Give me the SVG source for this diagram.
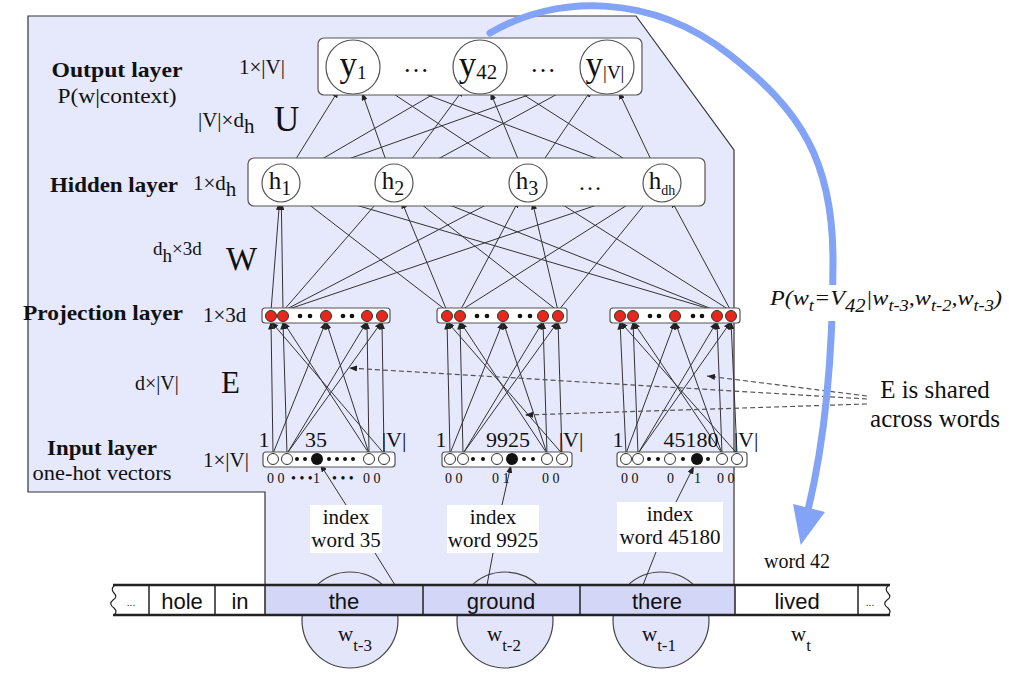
<svg xmlns="http://www.w3.org/2000/svg" width="1009" height="680" viewBox="0 0 1009 680">
<style>
.t{font-family:"Liberation Serif","Times New Roman",serif;fill:#111}
.s{font-family:"Liberation Sans",Arial,sans-serif;fill:#111}
.b{font-weight:bold}
.c{stroke:#333;stroke-width:1;fill:none;marker-end:url(#ah)}
.d{stroke:#555;stroke-width:1.2;stroke-dasharray:5 3;fill:none;marker-end:url(#ah)}
.box{fill:#fff;stroke:#555;stroke-width:1.2}
.nd{fill:#fff;stroke:#555;stroke-width:1.2}
.red{fill:#e8271c;stroke:#333;stroke-width:1}
.oc{fill:#fff;stroke:#333;stroke-width:1}
.sd{fill:#111}
.cell{stroke:#222;stroke-width:1.5}
</style>
<defs>
<marker id="ah" viewBox="0 0 8 6" refX="8" refY="3" markerWidth="8" markerHeight="6" orient="auto" markerUnits="userSpaceOnUse"><path d="M0,0L8,3L0,6z" fill="#222"/></marker>
</defs>
<rect width="1009" height="680" fill="#fff"/>
<polygon id="panel" points="28,16 636,16 734,150 734,585 265,585 265,492 28,492" fill="#e6e8fc" stroke="#333" stroke-width="1.2"/>

<!-- word circles -->
<g id="wcircles" fill="#e3e5fb" stroke="#444" stroke-width="1.2">
<circle cx="350" cy="620" r="48"/>
<circle cx="505" cy="620" r="48"/>
<circle cx="661" cy="620" r="48"/>
</g>

<!-- left labels -->
<g id="labels">
<text class="t b" x="117" y="77" font-size="21" text-anchor="middle" textLength="131" lengthAdjust="spacingAndGlyphs">Output layer</text>
<text class="t" x="117" y="103" font-size="21" text-anchor="middle" textLength="119" lengthAdjust="spacingAndGlyphs">P(w|context)</text>
<text class="t" x="239" y="74" font-size="21">1×|V|</text>
<text class="t" x="198" y="127" font-size="21">|V|×d<tspan dy="6">h</tspan></text>
<text class="t" x="274" y="131" font-size="35">U</text>
<text class="t b" x="114" y="192" font-size="21" text-anchor="middle" textLength="128" lengthAdjust="spacingAndGlyphs">Hidden layer</text>
<text class="t" x="193" y="190" font-size="21">1×d<tspan dy="6">h</tspan></text>
<text class="t" x="153" y="255" font-size="19">d<tspan dy="7">h</tspan><tspan dy="-7">×3d</tspan></text>
<text class="t" x="226" y="270" font-size="33">W</text>
<text class="t b" x="103" y="320" font-size="21" text-anchor="middle" textLength="160" lengthAdjust="spacingAndGlyphs">Projection layer</text>
<text class="t" x="203" y="322" font-size="21">1×3d</text>
<text class="t" x="135" y="390" font-size="20">d×|V|</text>
<text class="t" x="221" y="393" font-size="31">E</text>
<text class="t b" x="102" y="455" font-size="21" text-anchor="middle" textLength="110" lengthAdjust="spacingAndGlyphs">Input layer</text>
<text class="t" x="102" y="480" font-size="20" text-anchor="middle" textLength="139" lengthAdjust="spacingAndGlyphs">one-hot vectors</text>
<text class="t" x="203" y="467" font-size="21">1×|V|</text>
</g>

<!-- connectors -->
<g id="connectors">
<!-- hidden to output -->
<line class="c" x1="291" y1="166.8" x2="338.8" y2="89.9"/>
<line class="c" x1="297.4" y1="173.4" x2="456.7" y2="80.6"/>
<line class="c" x1="298.9" y1="176.6" x2="581.6" y2="76.1"/>
<line class="c" x1="387.7" y1="165.1" x2="362" y2="92.5"/>
<line class="c" x1="405.3" y1="167.7" x2="463.9" y2="88.7"/>
<line class="c" x1="410.7" y1="173.9" x2="583.3" y2="79.9"/>
<line class="c" x1="512.2" y1="172.5" x2="375.5" y2="81.9"/>
<line class="c" x1="520.7" y1="165.4" x2="490.3" y2="92"/>
<line class="c" x1="538.7" y1="167.3" x2="591.8" y2="89.3"/>
<line class="c" x1="644.2" y1="176.3" x2="378.3" y2="76.5"/>
<line class="c" x1="646" y1="172.8" x2="502.8" y2="81.5"/>
<line class="c" x1="653.9" y1="165.8" x2="618.6" y2="91.4"/>
<!-- projection to hidden -->
<line class="c" x1="271" y1="311" x2="279.5" y2="201.9"/>
<line class="c" x1="283" y1="311" x2="281.3" y2="202"/>
<line class="c" x1="283" y1="311" x2="381.6" y2="197.4"/>
<line class="c" x1="283" y1="311" x2="511.2" y2="191.8"/>
<line class="c" x1="283" y1="311" x2="644" y2="189.1"/>
<line class="c" x1="447" y1="311" x2="296" y2="194.6"/>
<line class="c" x1="447" y1="311" x2="401.3" y2="200.6"/>
<line class="c" x1="460" y1="311" x2="519.1" y2="199.8"/>
<line class="c" x1="460" y1="311" x2="645.9" y2="193.2"/>
<line class="c" x1="558" y1="311" x2="409" y2="194.7"/>
<line class="c" x1="558" y1="311" x2="532.3" y2="201.5"/>
<line class="c" x1="558" y1="311" x2="650" y2="197.7"/>
<line class="c" x1="717" y1="311" x2="299.2" y2="188.4"/>
<line class="c" x1="717" y1="311" x2="411.7" y2="190"/>
<line class="c" x1="731" y1="311" x2="544.1" y2="193.1"/>
<line class="c" x1="731" y1="311" x2="671" y2="199.7"/>
<!-- input to projection, group 1 -->
<line class="c" x1="273" y1="453.5" x2="271" y2="321.5"/>
<line class="c" x1="273" y1="453.5" x2="326" y2="321.5"/>
<line class="c" x1="287" y1="453.5" x2="283" y2="321.5"/>
<line class="c" x1="287" y1="453.5" x2="367" y2="321.5"/>
<line class="c" x1="287" y1="453.5" x2="382" y2="321.5"/>
<line class="c" x1="369" y1="453.5" x2="283" y2="321.5"/>
<line class="c" x1="369" y1="453.5" x2="326" y2="321.5"/>
<line class="c" x1="369" y1="453.5" x2="367" y2="321.5"/>
<line class="c" x1="384" y1="453.5" x2="271" y2="321.5"/>
<line class="c" x1="384" y1="453.5" x2="382" y2="321.5"/>
<!-- group 2 -->
<line class="c" x1="450" y1="453.5" x2="447" y2="321.5"/>
<line class="c" x1="450" y1="453.5" x2="503" y2="321.5"/>
<line class="c" x1="463" y1="453.5" x2="460" y2="321.5"/>
<line class="c" x1="463" y1="453.5" x2="543" y2="321.5"/>
<line class="c" x1="463" y1="453.5" x2="558" y2="321.5"/>
<line class="c" x1="547" y1="453.5" x2="460" y2="321.5"/>
<line class="c" x1="547" y1="453.5" x2="503" y2="321.5"/>
<line class="c" x1="547" y1="453.5" x2="543" y2="321.5"/>
<line class="c" x1="562" y1="453.5" x2="447" y2="321.5"/>
<line class="c" x1="562" y1="453.5" x2="558" y2="321.5"/>
<!-- group 3 -->
<line class="c" x1="626" y1="453.5" x2="620" y2="321.5"/>
<line class="c" x1="626" y1="453.5" x2="675" y2="321.5"/>
<line class="c" x1="638" y1="453.5" x2="633" y2="321.5"/>
<line class="c" x1="638" y1="453.5" x2="717" y2="321.5"/>
<line class="c" x1="638" y1="453.5" x2="731" y2="321.5"/>
<line class="c" x1="722" y1="453.5" x2="633" y2="321.5"/>
<line class="c" x1="722" y1="453.5" x2="675" y2="321.5"/>
<line class="c" x1="722" y1="453.5" x2="717" y2="321.5"/>
<line class="c" x1="737" y1="453.5" x2="620" y2="321.5"/>
<line class="c" x1="737" y1="453.5" x2="731" y2="321.5"/>
<!-- index to one-hot -->
<line class="c" x1="346" y1="505" x2="320" y2="464"/>
<line class="c" x1="502" y1="505" x2="511" y2="465"/>
<line class="c" x1="676" y1="502" x2="694" y2="466"/>
<!-- index to words -->
<line x1="375" y1="553" x2="395" y2="585" stroke="#333" stroke-width="1"/>
<line x1="493" y1="553" x2="487" y2="585" stroke="#333" stroke-width="1"/>
<line x1="656" y1="552" x2="643" y2="585" stroke="#333" stroke-width="1"/>
<!-- E shared dashed -->
<line class="d" x1="867" y1="399" x2="349" y2="368"/>
<line class="d" x1="867" y1="404" x2="525" y2="415"/>
<line class="d" x1="867" y1="396" x2="707" y2="376"/>
</g>

<!-- output layer -->
<g id="output-layer">
<rect class="box" x="318" y="38" width="324" height="57" rx="6"/>
<circle class="nd" cx="353" cy="67" r="27"/>
<circle class="nd" cx="480" cy="67" r="27"/>
<circle class="nd" cx="607" cy="67" r="27"/>
<text class="t" x="353" y="76" font-size="35" text-anchor="middle">y<tspan font-size="19" dy="3">1</tspan></text>
<text class="t" x="478" y="76" font-size="35" text-anchor="middle">y<tspan font-size="21" dy="3">42</tspan></text>
<text class="t" x="605" y="76" font-size="35" text-anchor="middle">y<tspan font-size="19" dy="3">|V|</tspan></text>
<text class="t" x="416" y="72" font-size="26" text-anchor="middle">…</text>
<text class="t" x="543" y="72" font-size="26" text-anchor="middle">…</text>
</g>

<!-- hidden layer -->
<g id="hidden-layer">
<rect class="box" x="248" y="158" width="457" height="48" rx="6"/>
<circle class="nd" cx="281" cy="183" r="19"/>
<circle class="nd" cx="394" cy="183" r="19"/>
<circle class="nd" cx="528" cy="183" r="19"/>
<circle class="nd" cx="662" cy="183" r="19"/>
<text class="t" x="280" y="189" font-size="25" text-anchor="middle">h<tspan font-size="20" dy="6">1</tspan></text>
<text class="t" x="393" y="189" font-size="25" text-anchor="middle">h<tspan font-size="20" dy="6">2</tspan></text>
<text class="t" x="527" y="189" font-size="25" text-anchor="middle">h<tspan font-size="20" dy="6">3</tspan></text>
<text class="t" x="662" y="189" font-size="25" text-anchor="middle">h<tspan font-size="14" dy="6">dh</tspan></text>
<text class="t" x="590" y="190" font-size="24" text-anchor="middle">…</text>
</g>

<!-- projection layer -->
<g id="projection-1">
<rect class="box" x="262" y="308" width="128" height="15" rx="3"/>
<circle class="red" cx="271" cy="316" r="5.5"/><circle class="red" cx="283" cy="316" r="5.5"/>
<circle class="sd" cx="300" cy="316" r="2.3"/><circle class="sd" cx="310" cy="316" r="2.3"/>
<circle class="red" cx="326" cy="316" r="5.5"/>
<circle class="sd" cx="343" cy="316" r="2.3"/><circle class="sd" cx="352" cy="316" r="2.3"/>
<circle class="red" cx="367" cy="316" r="5.5"/><circle class="red" cx="382" cy="316" r="5.5"/>
</g>
<g id="projection-2">
<rect class="box" x="437" y="308" width="130" height="15" rx="3"/>
<circle class="red" cx="447" cy="316" r="5.5"/><circle class="red" cx="460" cy="316" r="5.5"/>
<circle class="sd" cx="477" cy="316" r="2.3"/><circle class="sd" cx="487" cy="316" r="2.3"/>
<circle class="red" cx="503" cy="316" r="5.5"/>
<circle class="sd" cx="520" cy="316" r="2.3"/><circle class="sd" cx="530" cy="316" r="2.3"/>
<circle class="red" cx="543" cy="316" r="5.5"/><circle class="red" cx="558" cy="316" r="5.5"/>
</g>
<g id="projection-3">
<rect class="box" x="610" y="308" width="130" height="15" rx="3"/>
<circle class="red" cx="620" cy="316" r="5.5"/><circle class="red" cx="633" cy="316" r="5.5"/>
<circle class="sd" cx="650" cy="316" r="2.3"/><circle class="sd" cx="659" cy="316" r="2.3"/>
<circle class="red" cx="675" cy="316" r="5.5"/>
<circle class="sd" cx="693" cy="316" r="2.3"/><circle class="sd" cx="702" cy="316" r="2.3"/>
<circle class="red" cx="717" cy="316" r="5.5"/><circle class="red" cx="731" cy="316" r="5.5"/>
</g>

<!-- input layer -->
<g id="input-1">
<rect class="box" x="263" y="452" width="132" height="15" rx="3"/>
<circle class="oc" cx="273" cy="459" r="5.5"/><circle class="oc" cx="287" cy="459" r="5.5"/>
<circle class="sd" cx="297" cy="459" r="2"/><circle class="sd" cx="305" cy="459" r="2"/>
<circle class="sd" cx="317" cy="459" r="6"/>
<circle class="sd" cx="329" cy="459" r="2"/><circle class="sd" cx="337" cy="459" r="2"/><circle class="sd" cx="345" cy="459" r="2"/><circle class="sd" cx="353" cy="459" r="2"/>
<circle class="oc" cx="369" cy="459" r="5.5"/><circle class="oc" cx="384" cy="459" r="5.5"/>
<text class="t" x="264" y="447" font-size="22" text-anchor="middle">1</text>
<text class="t" x="316" y="447" font-size="22" text-anchor="middle">35</text>
<text class="t" x="394" y="447" font-size="22" text-anchor="middle">|V|</text>
<text class="t" font-size="14" y="483" fill="#333"><tspan x="267">0 0</tspan><tspan x="291">• • •</tspan><tspan x="313">1</tspan><tspan x="332">• • •</tspan><tspan x="363">0 0</tspan></text>
</g>
<g id="input-2">
<rect class="box" x="442" y="452" width="130" height="15" rx="3"/>
<circle class="oc" cx="450" cy="459" r="5.5"/><circle class="oc" cx="463" cy="459" r="5.5"/>
<circle class="sd" cx="473" cy="459" r="2"/><circle class="sd" cx="483" cy="459" r="2"/>
<circle class="oc" cx="497" cy="459" r="5.5"/>
<circle class="sd" cx="512" cy="459" r="6"/>
<circle class="sd" cx="524" cy="459" r="2"/><circle class="sd" cx="533" cy="459" r="2"/>
<circle class="oc" cx="547" cy="459" r="5.5"/><circle class="oc" cx="562" cy="459" r="5.5"/>
<text class="t" x="441" y="447" font-size="22" text-anchor="middle">1</text>
<text class="t" x="508" y="447" font-size="22" text-anchor="middle">9925</text>
<text class="t" x="571" y="447" font-size="22" text-anchor="middle">|V|</text>
<text class="t" font-size="14" y="483" fill="#333"><tspan x="445">0 0</tspan><tspan x="492">0 1</tspan><tspan x="542">0 0</tspan></text>
</g>
<g id="input-3">
<rect class="box" x="617" y="452" width="130" height="15" rx="3"/>
<circle class="oc" cx="626" cy="459" r="5.5"/><circle class="oc" cx="638" cy="459" r="5.5"/>
<circle class="sd" cx="649" cy="459" r="2"/><circle class="sd" cx="658" cy="459" r="2"/>
<circle class="oc" cx="670" cy="459" r="5.5"/>
<circle class="sd" cx="683" cy="459" r="2"/>
<circle class="sd" cx="697" cy="459" r="6"/>
<circle class="sd" cx="708" cy="459" r="2"/>
<circle class="oc" cx="722" cy="459" r="5.5"/><circle class="oc" cx="737" cy="459" r="5.5"/>
<text class="t" x="618" y="447" font-size="22" text-anchor="middle">1</text>
<text class="t" x="691" y="447" font-size="22" text-anchor="middle">45180</text>
<text class="t" x="746" y="447" font-size="22" text-anchor="middle">|V|</text>
<text class="t" font-size="14" y="483" fill="#333"><tspan x="621">0 0</tspan><tspan x="667">0</tspan><tspan x="694">1</tspan><tspan x="717">0 0</tspan></text>
</g>

<!-- index boxes -->
<g id="index-35">
<rect x="310" y="505" width="72" height="48" fill="#fff"/>
<text class="t" x="346" y="524" font-size="21" text-anchor="middle">index</text>
<text class="t" x="346" y="547" font-size="21" text-anchor="middle">word 35</text>
</g>
<g id="index-9925">
<rect x="447" y="505" width="92" height="48" fill="#fff"/>
<text class="t" x="493" y="524" font-size="21" text-anchor="middle">index</text>
<text class="t" x="493" y="547" font-size="21" text-anchor="middle">word 9925</text>
</g>
<g id="index-45180">
<rect x="617" y="502" width="106" height="50" fill="#fff"/>
<text class="t" x="670" y="521" font-size="21" text-anchor="middle">index</text>
<text class="t" x="670" y="544" font-size="21" text-anchor="middle">word 45180</text>
</g>

<!-- word strip -->
<g id="word-strip">
<rect x="113" y="585" width="777" height="30" fill="#fff"/>
<rect x="265" y="585" width="470" height="30" fill="#d4d6f8"/>
<line class="cell" x1="149" y1="585" x2="149" y2="615"/>
<line class="cell" x1="215" y1="585" x2="215" y2="615"/>
<line class="cell" x1="265" y1="585" x2="265" y2="615"/>
<line class="cell" x1="423" y1="585" x2="423" y2="615"/>
<line class="cell" x1="580" y1="585" x2="580" y2="615"/>
<line class="cell" x1="735" y1="585" x2="735" y2="615"/>
<line class="cell" x1="858" y1="585" x2="858" y2="615"/>
<line x1="113" y1="585" x2="890" y2="585" stroke="#222" stroke-width="2.5"/>
<line x1="113" y1="615" x2="890" y2="615" stroke="#222" stroke-width="2.5"/>
<path d="M115,585 q-5,4 -1,8 q4,4 -1,7 q-5,4 1,8 q4,4 0,7" fill="none" stroke="#222" stroke-width="1.2"/>
<path d="M889,585 q-5,4 -1,8 q4,4 -1,7 q-5,4 1,8 q4,4 0,7" fill="none" stroke="#222" stroke-width="1.2"/>
<text class="s" x="131" y="606" font-size="10" text-anchor="middle">...</text>
<text class="s" x="182" y="609" font-size="22" text-anchor="middle">hole</text>
<text class="s" x="240" y="609" font-size="22" text-anchor="middle">in</text>
<text class="s" x="344" y="609" font-size="22" text-anchor="middle">the</text>
<text class="s" x="501" y="609" font-size="22" text-anchor="middle">ground</text>
<text class="s" x="657" y="609" font-size="22" text-anchor="middle">there</text>
<text class="s" x="797" y="609" font-size="22" text-anchor="middle">lived</text>
<text class="s" x="870" y="606" font-size="10" text-anchor="middle">...</text>
</g>
<g id="w-labels">
<text class="t" x="355" y="641" font-size="21" text-anchor="middle">w<tspan font-size="17" dy="10">t-3</tspan></text>
<text class="t" x="504" y="641" font-size="21" text-anchor="middle">w<tspan font-size="17" dy="10">t-2</tspan></text>
<text class="t" x="659" y="641" font-size="21" text-anchor="middle">w<tspan font-size="17" dy="10">t-1</tspan></text>
<text class="t" x="801" y="641" font-size="21" text-anchor="middle">w<tspan font-size="17" dy="10">t</tspan></text>
<text class="t" x="797" y="568" font-size="20" text-anchor="middle">word 42</text>
</g>

<!-- blue curved arrow -->
<g id="prediction-arrow">
<path d="M490,33 C555,-5 650,-8 730,55 C800,110 833,160 833,260 C833,350 825,440 808,510" fill="none" stroke="#82a3f6" stroke-width="7" stroke-linecap="round"/>
<polygon points="793,504 825,512 800.7,545" fill="#82a3f6"/>
</g>
<g id="prob-label">
<rect x="768" y="285" width="238" height="36" fill="#fff"/>
<text class="t" x="770" y="305" font-size="21" font-style="italic" textLength="232" lengthAdjust="spacingAndGlyphs">P(w<tspan dy="6" font-size="16">t</tspan><tspan dy="-6">=V</tspan><tspan dy="7" font-size="18">42</tspan><tspan dy="-7">|w</tspan><tspan dy="6" font-size="16">t-3</tspan><tspan dy="-6">,w</tspan><tspan dy="6" font-size="16">t-2</tspan><tspan dy="-6">,w</tspan><tspan dy="6" font-size="16">t-3</tspan><tspan dy="-6">)</tspan></text>
</g>
<g id="shared-label">
<text class="t" x="935" y="398" font-size="25" text-anchor="middle">E is shared</text>
<text class="t" x="935" y="427" font-size="25" text-anchor="middle">across words</text>
</g>
</svg>
